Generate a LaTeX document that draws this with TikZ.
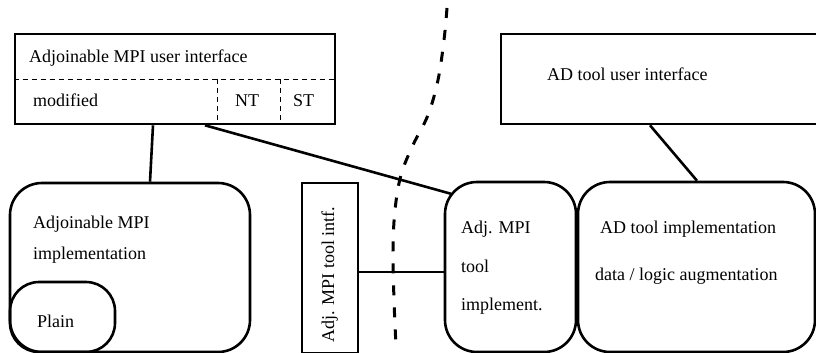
\documentclass[tikz,border=0pt]{standalone}
\usepackage{fontspec}
\setmainfont{Liberation Serif}
\begin{document}
\begin{tikzpicture}[x=1pt,y=-1pt,
  box/.style={draw,line width=2.6pt,rectangle,inner sep=0pt},
  rbox/.style={box,rounded corners=32pt},
  lbl/.style={anchor=base west,inner sep=0pt,font=\fontsize{18}{22}\selectfont},
  conn/.style={line width=2.6pt},
  sub/.style={line width=1pt,dash pattern=on 5pt off 4pt},
  border/.style={line width=3pt,dash pattern=on 10pt off 12pt}]
\useasboundingbox (0,0) rectangle (816,353);
% boxes
\node[box,minimum width=320pt,minimum height=90pt] (ui) at (175,79) {};
\node[box,minimum width=318pt,minimum height=90pt] (adui) at (660,79) {};
\node[rbox,minimum width=240pt,minimum height=169pt] (impl) at (130,267.5) {};
\node[box,rounded corners=29pt,minimum width=105pt,minimum height=70pt] (plain) at (62.5,317) {};
\node[box,minimum width=56pt,minimum height=170pt] (intf) at (330,268) {};
\node[rbox,minimum width=131pt,minimum height=170pt] (toolimpl) at (510.5,267) {};
\node[rbox,minimum width=237pt,minimum height=170pt] (adimpl) at (696.5,267) {};
% sub-divisions of the user interface box
\coordinate (d1) at (217,79);
\coordinate (d2) at (280,79);
\draw[sub] (ui.west |- d1) -- (ui.east |- d1);
\draw[sub] (d1) -- (d1 |- ui.south);
\draw[sub] (d2) -- (d2 |- ui.south);
% labels
\node[lbl] (t1) at (29,63) {Adjoinable MPI user interface};
\node[lbl] (t2) at (33,106) {modified};
\node[lbl] (t3) at (235,106) {NT};
\node[lbl] (t4) at (293,106) {ST};
\node[lbl] (t5) at (547,80) {AD tool user interface};
\node[lbl] (t6) at (33,228) {Adjoinable MPI};
\node[lbl] (t7) at (33,259) {implementation};
\node[lbl] (t8) at (37,327) {Plain};
\node[lbl,rotate=90] (t9) at (334,343) {Adj. MPI tool intf.};
\node[lbl] (t10) at (461,233) {Adj. MPI};
\node[lbl] (t11) at (461,272) {tool};
\node[lbl] (t12) at (461,310) {implement.};
\node[lbl] (t13) at (600,233) {AD tool implementation};
\node[lbl] (t14) at (595,280) {data / logic augmentation};
% connectors
\draw[conn] ([xshift=-22pt]ui.south) -- ([xshift=20pt]impl.north);
\draw[conn] ([xshift=30pt]ui.south) -- ([shift={(7pt,-13pt)}]toolimpl.north west);
\draw[conn] ([xshift=-10pt]adui.south) -- ([xshift=0.5pt]adimpl.north);
\draw[conn] ([yshift=-4pt]intf.east) -- ([yshift=-4pt]intf.east -| toolimpl.west);
% dashed border curve
\draw[border] plot[smooth,tension=0.6] coordinates {(447,8) (444,40) (438,80) (428,115) (413,145) (401,175) (395,210) (393,250) (394,300) (396,346)};
\end{tikzpicture}
\end{document}
